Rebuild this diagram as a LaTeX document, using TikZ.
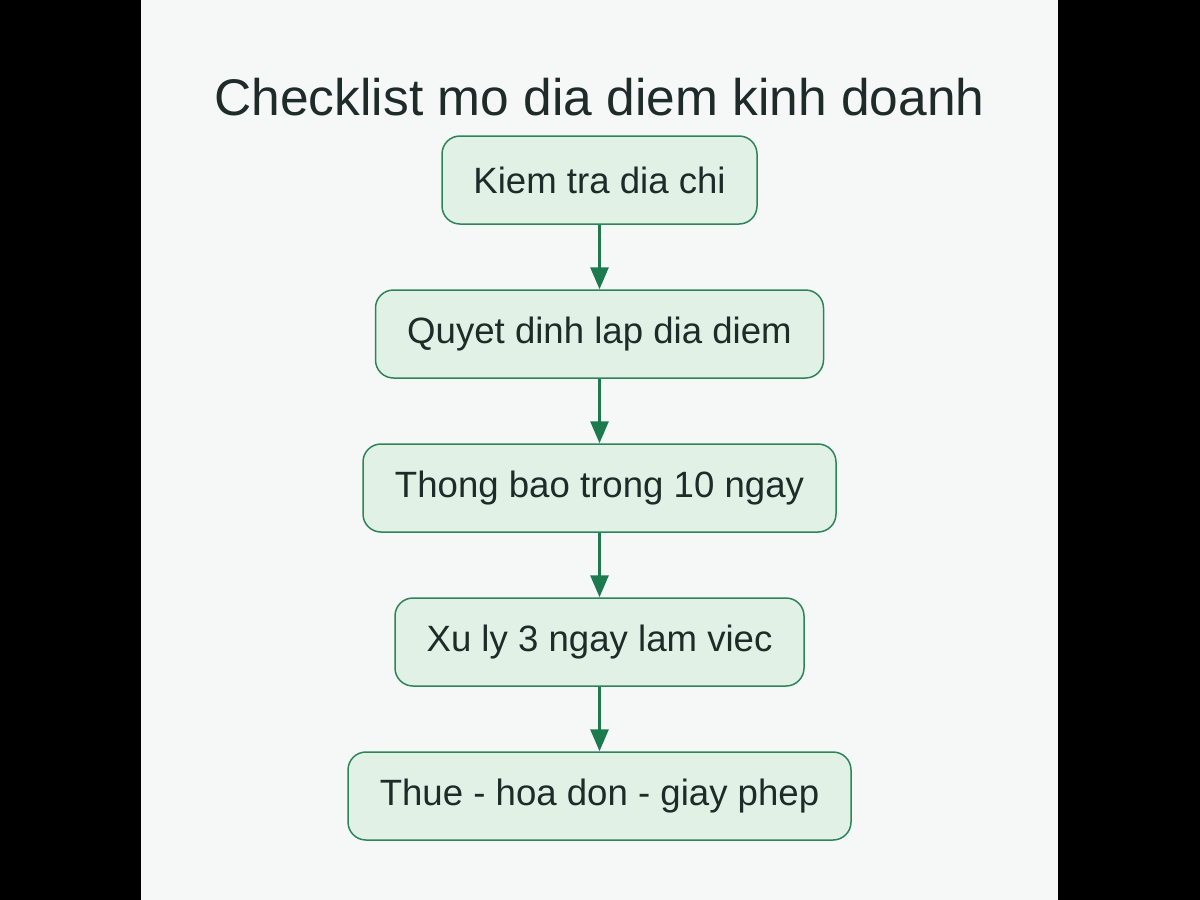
\documentclass[tikz,border=0pt]{standalone}
\usepackage{fontspec}
\setmainfont{Liberation Sans}
\usetikzlibrary{arrows.meta}
\definecolor{bg}{HTML}{F6F8F8}
\definecolor{boxfill}{HTML}{E1F1E6}
\definecolor{boxline}{HTML}{2E845A}
\definecolor{arrowc}{HTML}{1D7A4F}
\definecolor{txt}{HTML}{1F2B28}
\tikzset{
  stepbox/.style={draw=boxline, fill=boxfill, line width=1.5pt, rounded corners=18pt,
    minimum height=88pt, inner sep=0pt, text=txt,
    font=\fontsize{36.6}{42}\selectfont, anchor=center},
  flow/.style={draw=arrowc, line width=3pt, -{Triangle[length=22pt,width=18pt]}}
}
\begin{document}
\begin{tikzpicture}[x=1pt,y=-1pt]
\useasboundingbox (0,0) rectangle (1200,900);
\fill[black] (0,0) rectangle (1200,900);
\fill[bg] (141,0) rectangle (1058,900);
\node[text=txt, font=\fontsize{51.5}{56}\selectfont] (title) at (599.5,97) {Checklist mo dia diem kinh doanh};
\node[stepbox, minimum width=315pt] (s1) at (599.5,180) {Kiem tra dia chi};
\node[stepbox, minimum width=448pt] (s2) at (599.5,334) {Quyet dinh lap dia diem};
\node[stepbox, minimum width=473pt] (s3) at (599.5,488) {Thong bao trong 10 ngay};
\node[stepbox, minimum width=409pt] (s4) at (599.5,642) {Xu ly 3 ngay lam viec};
\node[stepbox, minimum width=503pt] (s5) at (599.5,796) {Thue - hoa don - giay phep};
\draw[flow] (s1.south) -- (s2.north);
\draw[flow] (s2.south) -- (s3.north);
\draw[flow] (s3.south) -- (s4.north);
\draw[flow] (s4.south) -- (s5.north);
\end{tikzpicture}
\end{document}
